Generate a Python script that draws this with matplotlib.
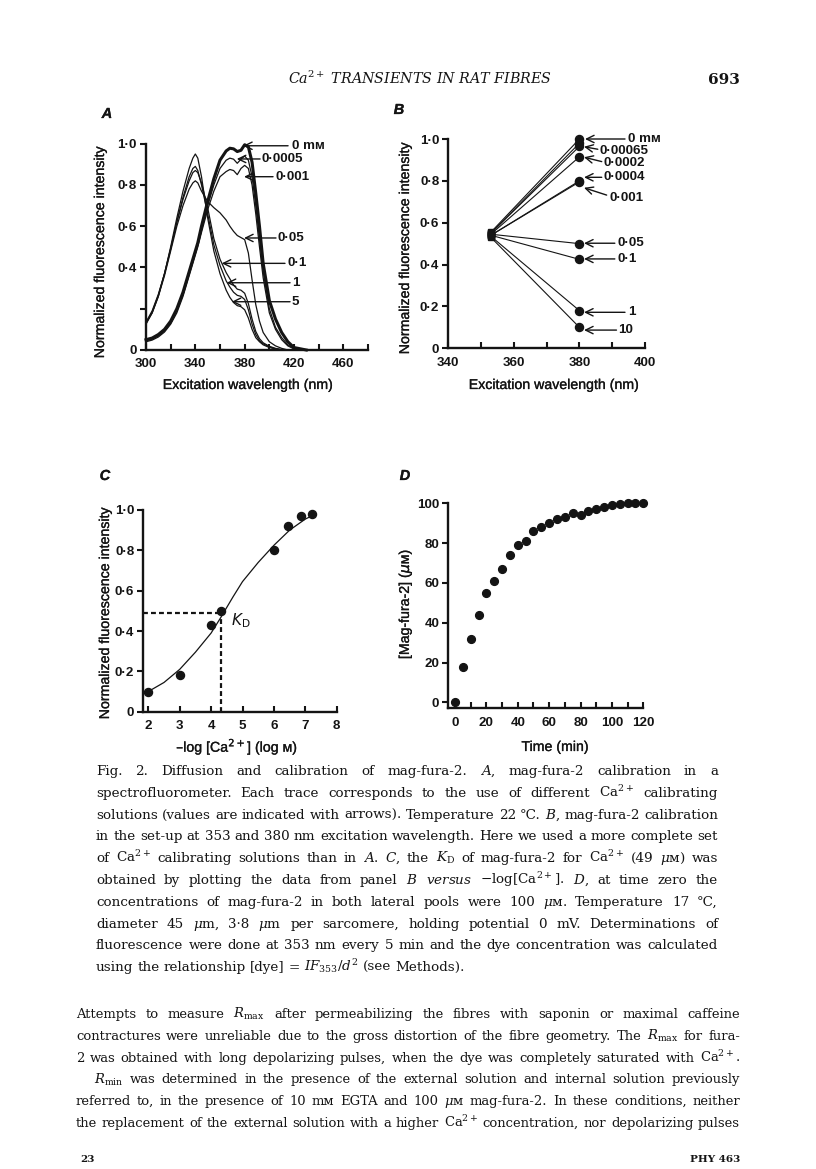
import matplotlib
matplotlib.use("Agg")
import matplotlib.pyplot as plt
import matplotlib.patheffects as pe

W, H = 816, 1169
INK = "#141414"
SANS = ["Liberation Sans", "DejaVu Sans"]
SERIF = ["DejaVu Serif", "DejaVu Sans"]
plt.rcParams["font.family"] = SANS
HEAVY = [pe.withStroke(linewidth=0.2, foreground=INK)]

# ---- panel A: excitation spectra, normalized
wl_a = [300, 305, 310, 315, 320, 325, 330, 335, 338, 340, 342, 345, 350, 355,
        360, 365, 368, 371, 374, 377, 380, 383, 386, 389, 392, 395, 400, 405,
        410, 415, 420, 430]
spec_0 = [0.05, 0.058, 0.075, 0.10, 0.14, 0.20, 0.28, 0.38, 0.44, 0.48, 0.52, 0.60,
          0.72, 0.83, 0.92, 0.965, 0.978, 0.975, 0.962, 0.968, 0.995, 0.985, 0.91,
          0.76, 0.60, 0.42, 0.24, 0.15, 0.085, 0.04, 0.012, 0.0]
spec_00005 = [0.045, 0.052, 0.068, 0.092, 0.13, 0.19, 0.27, 0.37, 0.43, 0.47, 0.51,
              0.58, 0.70, 0.80, 0.88, 0.92, 0.93, 0.925, 0.905, 0.925, 0.94, 0.92,
              0.84, 0.70, 0.54, 0.38, 0.20, 0.11, 0.06, 0.025, 0.008, 0.0]
spec_0001 = [0.04, 0.048, 0.063, 0.087, 0.125, 0.18, 0.26, 0.36, 0.42, 0.46, 0.50,
             0.57, 0.68, 0.77, 0.84, 0.865, 0.875, 0.87, 0.85, 0.88, 0.895, 0.88,
             0.80, 0.66, 0.50, 0.35, 0.18, 0.10, 0.05, 0.02, 0.005, 0.0]
spec_005 = [0.13, 0.18, 0.26, 0.36, 0.48, 0.60, 0.70, 0.78, 0.81, 0.82, 0.81, 0.77,
            0.72, 0.69, 0.665, 0.63, 0.60, 0.575, 0.555, 0.545, 0.535, 0.47, 0.34,
            0.22, 0.14, 0.085, 0.04, 0.02, 0.008, 0.0, 0.0, 0.0]
spec_01 = [0.135, 0.19, 0.27, 0.37, 0.49, 0.62, 0.73, 0.82, 0.86, 0.87, 0.86, 0.81,
           0.69, 0.54, 0.44, 0.375, 0.345, 0.315, 0.295, 0.29, 0.275, 0.225, 0.15,
           0.09, 0.055, 0.035, 0.018, 0.008, 0.002, 0.0, 0.0, 0.0]
spec_1 = [0.13, 0.185, 0.265, 0.37, 0.49, 0.62, 0.74, 0.84, 0.88, 0.89, 0.87, 0.80,
          0.66, 0.51, 0.41, 0.335, 0.305, 0.28, 0.265, 0.26, 0.245, 0.195, 0.125,
          0.075, 0.045, 0.03, 0.015, 0.006, 0.001, 0.0, 0.0, 0.0]
spec_5 = [0.125, 0.18, 0.26, 0.37, 0.50, 0.64, 0.77, 0.88, 0.93, 0.95, 0.93, 0.84,
          0.64, 0.48, 0.37, 0.29, 0.255, 0.23, 0.215, 0.21, 0.195, 0.155, 0.10,
          0.06, 0.04, 0.025, 0.012, 0.005, 0.0, 0.0, 0.0, 0.0]
a_labels = ["0 mᴍ", "0·0005", "0·001", "0·05", "0·1", "1", "5"]

# ---- panel B: two-wavelength calibration
wl_b = [353, 380]
b_at353 = [0.555, 0.55, 0.55, 0.545, 0.54, 0.54, 0.545, 0.54, 0.535, 0.53]
b_at380 = [1.0, 0.98, 0.965, 0.915, 0.80, 0.795, 0.50, 0.425, 0.18, 0.10]
b_labels = ["0 mᴍ", "0·00065", "0·0002", "0·0004", "0·001", "0·05", "0·1", "1", "10"]

# ---- panel C: fluorescence vs -log[Ca]
pca = [2.0, 3.0, 4.0, 4.3, 6.0, 6.45, 6.85, 7.2]
pca_f = [0.10, 0.18, 0.43, 0.50, 0.80, 0.92, 0.97, 0.98]
fit_pca = [2.0, 2.5, 3.0, 3.5, 4.0, 4.3, 4.7, 5.0, 5.5, 6.0, 6.5, 7.0, 7.2]
fit_f = [0.10, 0.145, 0.21, 0.295, 0.39, 0.465, 0.57, 0.645, 0.74, 0.825, 0.90, 0.955, 0.97]
kd_pca, kd_f = 4.3, 0.49

# ---- panel D: dye diffusion
t_min = [0, 5, 10, 15, 20, 25, 30, 35, 40, 45, 50, 55, 60, 65, 70, 75, 80, 85, 90,
         95, 100, 105, 110, 115, 120]
dye_um = [0, 18, 32, 44, 55, 61, 67, 74, 79, 81, 86, 88, 90, 92, 93, 95, 94, 96, 97,
          98, 99, 99.5, 100, 100, 100]

fig = plt.figure(figsize=(W / 100, H / 100), dpi=100)
fig.patch.set_facecolor("white")


def P(x, y):
    return x / W, 1 - y / H


def panel(x0, x1, ytop, ybot):
    ax = fig.add_axes([x0 / W, 1 - ybot / H, (x1 - x0) / W, (ybot - ytop) / H])
    ax.spines["top"].set_visible(False)
    ax.spines["right"].set_visible(False)
    for s in ["left", "bottom"]:
        ax.spines[s].set_linewidth(1.7)
        ax.spines[s].set_color(INK)
    ax.tick_params(axis="x", direction="in", length=4.5, width=1.5, pad=6, colors=INK)
    ax.tick_params(axis="y", direction="out", length=4.5, width=1.5, pad=2, colors=INK)
    ax.patch.set_alpha(0)
    return ax


def ticks(ax, xt, xl, yt, yl):
    ax.set_xticks(xt, xl, fontsize=9.6, fontweight="bold")
    ax.set_yticks(yt, yl, fontsize=9.6, fontweight="bold")


def arrow(ax, tip, tail, label, tx, ty=None):
    ax.annotate("", xy=tip, xytext=tail, annotation_clip=False,
                arrowprops=dict(arrowstyle="->,head_length=0.45,head_width=0.22",
                                lw=1.0, color=INK, shrinkA=0, shrinkB=0,
                                mutation_scale=12))
    ax.text(tx, tail[1] if ty is None else ty, label, fontsize=9.6, fontweight="bold",
            color=INK, va="center", ha="left", clip_on=False)


def label(x, y, s, rot=0, size=10.2, **kw):
    fig.text(*P(x, y), s, rotation=rot, fontsize=size, color=INK,
             ha="center", va="center", path_effects=HEAVY, **kw)


ylab = ["0", "0·2", "0·4", "0·6", "0·8", "1·0"]
yt = [0, 0.2, 0.4, 0.6, 0.8, 1.0]

# ---------------- A
axA = panel(146, 368, 143.7, 350)
axA.set_xlim(300, 480)
axA.set_ylim(0, 1.0)
spectra = [spec_0, spec_00005, spec_0001, spec_005, spec_01, spec_1, spec_5]
for i, s in enumerate(spectra):
    axA.plot(wl_a, s, color=INK, lw=2.2 if i == 0 else 0.9, clip_on=False,
             solid_joinstyle="round")
ticks(axA, range(300, 481, 20), ["300", "", "340", "", "380", "", "420", "", "460", ""],
      yt, ["0", "", "0·4", "0·6", "0·8", "1·0"])
a_arrows = [((378.7, 0.99), (415.2, 0.99), 418.4),
            ((373.6, 0.926), (392.5, 0.926), 394.0),
            ((379.5, 0.84), (403.0, 0.84), 404.6),
            ((379.5, 0.543), (405.4, 0.543), 407.0),
            ((361.4, 0.42), (412.7, 0.42), 414.4),
            ((365.4, 0.326), (416.8, 0.326), 418.4),
            ((369.5, 0.234), (416.8, 0.234), 418.4)]
for (tip, tail, tx), lab in zip(a_arrows, a_labels):
    arrow(axA, tip, tail, lab, tx)
label(248, 385, "Excitation wavelength (nm)")
label(100, 252, "Normalized fluorescence intensity", rot=90)
label(107, 114, "A", size=10.5, fontstyle="italic", fontweight="bold")

# ---------------- B
axB = panel(448.3, 645, 139, 348.3)
axB.set_xlim(340, 400)
axB.set_ylim(0, 1.0)
for v0, v1 in zip(b_at353, b_at380):
    axB.plot(wl_b, [v0, v1], color=INK, lw=0.8, clip_on=False)
axB.plot([wl_b[0]] * len(b_at353), b_at353, "s", ms=4.2, color=INK, clip_on=False)
axB.plot([wl_b[1]] * len(b_at380), b_at380, "o", ms=5.8, color=INK, clip_on=False)
ticks(axB, range(340, 401, 10), ["340", "", "360", "", "380", "", "400"], yt, ylab)
b_arrows = [((381.7, 1.0), (393.9, 1.0), 394.8, None),
            ((381.4, 0.963), (385.6, 0.951), 386.2, 0.945),
            ((381.4, 0.913), (386.8, 0.892), 387.2, 0.885),
            ((381.4, 0.817), (386.8, 0.817), 387.2, None),
            ((381.4, 0.767), (388.3, 0.732), 389.3, 0.72),
            ((381.4, 0.502), (390.8, 0.502), 391.7, None),
            ((381.4, 0.427), (390.8, 0.427), 391.7, None),
            ((381.4, 0.172), (393.9, 0.172), 394.8, None),
            ((381.4, 0.087), (391.3, 0.087), 391.9, None)]
for (tip, tail, tx, ty), lab in zip(b_arrows, b_labels):
    arrow(axB, tip, tail, lab, tx, ty)
label(554, 385, "Excitation wavelength (nm)")
label(405, 248, "Normalized fluorescence intensity", rot=90)
label(399, 110, "B", size=10.5, fontstyle="italic", fontweight="bold")

# ---------------- C
axC = panel(143.3, 336.7, 510, 711.7)
axC.set_xlim(1.84, 8)
axC.set_ylim(0, 1.0)
axC.plot(fit_pca, fit_f, color=INK, lw=0.9, clip_on=False)
axC.plot(pca, pca_f, "o", ms=5.8, color=INK, clip_on=False)
axC.plot([1.84, kd_pca], [kd_f, kd_f], color=INK, lw=1.6, dashes=(2.2, 1.4))
axC.plot([kd_pca, kd_pca], [0, kd_f], color=INK, lw=1.6, dashes=(2.2, 1.4))
axC.text(4.62, 0.45, r"$K_\mathrm{D}$", fontsize=11, color=INK, va="center")
ticks(axC, range(2, 9), [str(v) for v in range(2, 9)], yt, ylab)
label(237, 747, "\u2013log [Ca$^{2+}$] (log ᴍ)")
label(105, 613, "Normalized fluorescence intensity", rot=90)
label(105, 476, "C", size=10.5, fontstyle="italic", fontweight="bold")

# ---------------- D
axD = panel(448.3, 643.3, 503.3, 708.3)
axD.set_xlim(-4.3, 120)
axD.set_ylim(-3, 100)
axD.plot(t_min, dye_um, "o", ms=5.6, color=INK, clip_on=False)
ticks(axD, range(0, 121, 10),
      [str(v) if v % 20 == 0 else "" for v in range(0, 121, 10)],
      range(0, 101, 20), [str(v) for v in range(0, 101, 20)])
label(555, 747, "Time (min)")
label(405, 604, r"[Mag-fura-2] ($\mu$ᴍ)", rot=90)
label(405, 476, "D", size=10.5, fontstyle="italic", fontweight="bold")

# ---------------- running head
fig.text(*P(420, 84), r"Ca$^{2+}$ TRANSIENTS IN RAT FIBRES", family=SERIF,
         fontstyle="italic", fontsize=10.3, color=INK, ha="center", va="baseline",
         math_fontfamily="dejavuserif")
fig.text(*P(740, 84), "693", family=SERIF, fontweight="bold", fontsize=11,
         color=INK, ha="right", va="baseline")

# ---------------- caption and body text (justified)
caption = [
    "Fig. 2. Diffusion and calibration of mag-fura-2. $\\mathit{A}$, mag-fura-2 calibration in a",
    "spectrofluorometer. Each trace corresponds to the use of different Ca$^{2+}$ calibrating",
    "solutions (values are indicated with arrows). Temperature 22 \u00b0C. $\\mathit{B}$, mag-fura-2 calibration",
    "in the set-up at 353 and 380 nm excitation wavelength. Here we used a more complete set",
    "of Ca$^{2+}$ calibrating solutions than in $\\mathit{A}$. $\\mathit{C}$, the $K_\\mathrm{D}$ of mag-fura-2 for Ca$^{2+}$ (49 $\\mu$ᴍ) was",
    "obtained by plotting the data from panel $\\mathit{B}$ $\\mathit{versus}$ $-$log[Ca$^{2+}$]. $\\mathit{D}$, at time zero the",
    "concentrations of mag-fura-2 in both lateral pools were 100 $\\mu$ᴍ. Temperature 17 \u00b0C,",
    "diameter 45 $\\mu$m, 3\u00b78 $\\mu$m per sarcomere, holding potential 0 mV. Determinations of",
    "fluorescence were done at 353 nm every 5 min and the dye concentration was calculated",
    "using the relationship [dye] = $\\mathit{IF}_{353}/d^2$ (see Methods).",
]
body = [
    "Attempts to measure $R_\\mathrm{max}$ after permeabilizing the fibres with saponin or maximal caffeine",
    "contractures were unreliable due to the gross distortion of the fibre geometry. The $R_\\mathrm{max}$ for fura-",
    "2 was obtained with long depolarizing pulses, when the dye was completely saturated with Ca$^{2+}$.",
    "$R_\\mathrm{min}$ was determined in the presence of the external solution and internal solution previously",
    "referred to, in the presence of 10 mᴍ EGTA and 100 $\\mu$ᴍ mag-fura-2. In these conditions, neither",
    "the replacement of the external solution with a higher Ca$^{2+}$ concentration, nor depolarizing pulses",
]

rend = fig.canvas.get_renderer()


def serif_text(x, y, s, size):
    return fig.text(*P(x, y), s, family=SERIF, fontsize=size, color=INK,
                    va="baseline", ha="left", math_fontfamily="dejavuserif")


def width_of(s, size):
    t = serif_text(0, 0, s, size)
    w = t.get_window_extent(rend).width
    t.remove()
    return w


def block(lines, x0, x1, y0, dy, ragged=(), indent=None):
    indent = indent or {}
    natural = max(width_of(l, 10) + indent.get(i, 0)
                  for i, l in enumerate(lines) if i not in ragged)
    size = 10 * (x1 - x0) / natural
    for i, line in enumerate(lines):
        words = line.split(" ")
        arts = [serif_text(0, 0, w, size) for w in words]
        ws = [a.get_window_extent(rend).width for a in arts]
        xs = x0 + indent.get(i, 0)
        if i in ragged:
            gap = 0.3 * size * 100 / 72
        else:
            gap = (x1 - xs - sum(ws)) / (len(words) - 1)
        x = xs
        for a, w in zip(arts, ws):
            a.set_position(P(x, y0 + i * dy))
            x += w + gap


block(caption, 96, 718, 775, 21.8, ragged=(9,))
block(body, 76, 740, 1018, 21.8, indent={3: 18})

fig.text(*P(80, 1162), "23", family=SERIF, fontweight="bold", fontsize=7.5,
         color=INK, ha="left", va="baseline")
fig.text(*P(740, 1162), "PHY 463", family=SERIF, fontweight="bold", fontsize=7.5,
         color=INK, ha="right", va="baseline")

fig.savefig("out.png", dpi=100, facecolor="white")
